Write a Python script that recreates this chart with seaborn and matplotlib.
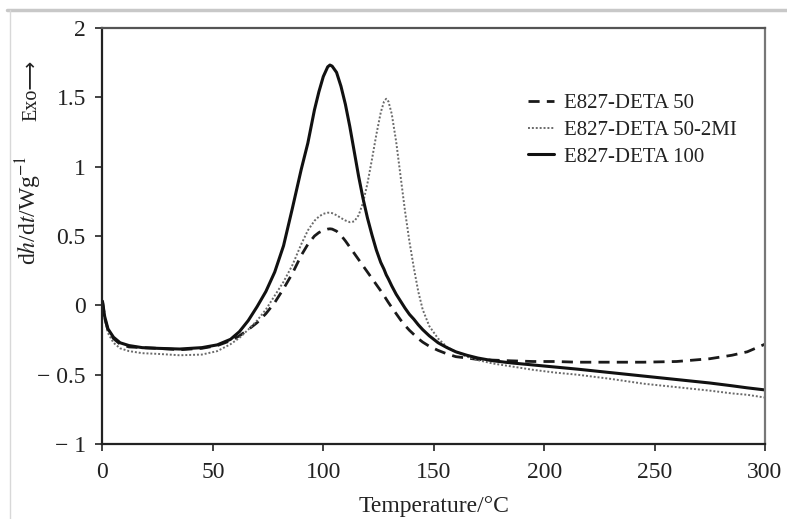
import numpy as np
import pandas as pd
import matplotlib
matplotlib.use("Agg")
import matplotlib.pyplot as plt
import seaborn as sns
from matplotlib.lines import Line2D
from matplotlib.ticker import FixedLocator, FixedFormatter

# ---------------- data ----------------
temperature = [0, 1, 2.5, 5, 8, 12, 18, 25, 35, 45, 52, 58, 62, 66, 70, 74, 78, 82, 86, 90,
               93, 96, 98, 100, 102, 103, 104, 106, 108, 110, 112, 114, 116, 118, 120, 122,
               124, 126, 127.5, 128.5, 129.5, 131, 133, 135, 137, 139, 141, 143, 145, 148,
               152, 156, 160, 165, 170, 177, 185, 195, 205, 215, 230, 245, 260, 275, 285,
               292, 300]

deta50 = [0.03, -0.09, -0.18, -0.24, -0.28, -0.30, -0.305, -0.31, -0.32, -0.31, -0.29,
          -0.255, -0.22, -0.175, -0.125, -0.06, 0.02, 0.12, 0.23, 0.36, 0.44, 0.50, 0.525,
          0.54, 0.55, 0.552, 0.55, 0.535, 0.505, 0.465, 0.42, 0.375, 0.33, 0.285, 0.24,
          0.195, 0.15, 0.105, 0.07, 0.045, 0.02, -0.015, -0.06, -0.105, -0.145, -0.18,
          -0.21, -0.24, -0.265, -0.295, -0.325, -0.35, -0.37, -0.38, -0.39, -0.395, -0.40,
          -0.405, -0.405, -0.41, -0.41, -0.41, -0.405, -0.385, -0.36, -0.335, -0.28]

deta50_2mi = [0.02, -0.10, -0.20, -0.27, -0.31, -0.33, -0.345, -0.35, -0.36, -0.355, -0.33,
              -0.28, -0.235, -0.175, -0.11, -0.03, 0.07, 0.17, 0.29, 0.44, 0.54, 0.61, 0.64,
              0.66, 0.668, 0.668, 0.665, 0.65, 0.63, 0.612, 0.60, 0.605, 0.65, 0.74, 0.88,
              1.05, 1.23, 1.39, 1.47, 1.49, 1.47, 1.38, 1.18, 0.93, 0.68, 0.46, 0.27, 0.10,
              -0.03, -0.15, -0.24, -0.30, -0.335, -0.37, -0.395, -0.42, -0.44, -0.465,
              -0.485, -0.50, -0.53, -0.565, -0.59, -0.615, -0.635, -0.645, -0.665]

deta100 = [0.03, -0.08, -0.17, -0.23, -0.27, -0.29, -0.305, -0.31, -0.315, -0.305, -0.285,
           -0.245, -0.19, -0.11, -0.01, 0.10, 0.24, 0.43, 0.70, 0.98, 1.17, 1.41, 1.54,
           1.65, 1.72, 1.733, 1.725, 1.68, 1.58, 1.45, 1.29, 1.11, 0.93, 0.77, 0.63, 0.51,
           0.40, 0.31, 0.26, 0.22, 0.19, 0.14, 0.08, 0.03, -0.02, -0.065, -0.10, -0.14,
           -0.175, -0.22, -0.27, -0.305, -0.335, -0.36, -0.38, -0.40, -0.415, -0.43, -0.445,
           -0.46, -0.485, -0.51, -0.535, -0.56, -0.58, -0.595, -0.61]

series_names = ["E827-DETA 50", "E827-DETA 50-2MI", "E827-DETA 100"]
x_ticks = [0, 50, 100, 150, 200, 250, 300]
x_tick_labels = ["0", "50", "100", "150", "200", "250", "300"]
y_ticks = [-1, -0.5, 0, 0.5, 1, 1.5, 2]
y_tick_labels = ["\u2212 1", "\u2212 0.5", "0", "0.5", "1", "1.5", "2"]

# ---------------- style ----------------
sns.set_theme(style="white")
plt.rcParams["font.family"] = ["Liberation Serif", "DejaVu Serif"]
plt.rcParams["mathtext.fontset"] = "stix"

df = pd.DataFrame({
    "T": temperature * 3,
    "v": deta50 + deta50_2mi + deta100,
    "series": [series_names[0]] * len(temperature)
              + [series_names[1]] * len(temperature)
              + [series_names[2]] * len(temperature),
})

fig = plt.figure(figsize=(7.87, 5.19), dpi=100)
ax = fig.add_axes([0.1302, 0.1445, 0.8418, 0.8015])

styles = {
    series_names[0]: dict(color="#1a1a1a", lw=2.0, dashes=(4.0, 2.6)),
    series_names[1]: dict(color="#6a6a6a", lw=1.4, dashes=(1.0, 1.0)),
    series_names[2]: dict(color="#111111", lw=2.2, dashes=()),
}
for name in series_names:
    sub = df[df["series"] == name]
    st = styles[name]
    sns.lineplot(data=sub, x="T", y="v", ax=ax, sort=False, estimator=None,
                 color=st["color"], linewidth=st["lw"], label=name)
    ln = ax.get_lines()[-1]
    if st["dashes"]:
        ln.set_dashes(st["dashes"])
    ln.set_solid_capstyle("round")
    ln.set_solid_joinstyle("round")

ax.set_xlim(0, 300)
ax.set_ylim(-1, 2)
ax.xaxis.set_major_locator(FixedLocator(x_ticks))
ax.xaxis.set_major_formatter(FixedFormatter(x_tick_labels))
ax.yaxis.set_major_locator(FixedLocator(y_ticks))
ax.yaxis.set_major_formatter(FixedFormatter(y_tick_labels))
ax.tick_params(axis="both", which="major", direction="out", length=5, width=1.2,
               color="#222222", labelsize=17, labelcolor="#222222",
               bottom=True, left=True, top=False, right=False)
ax.tick_params(axis="x", pad=8)
ax.tick_params(axis="y", pad=7)

for side, sp in ax.spines.items():
    sp.set_visible(True)
    sp.set_linewidth(1.6)
    sp.set_color("#222222")
ax.spines["right"].set_color("#777777")
ax.spines["top"].set_color("#555555")

ax.set_xlabel("Temperature/\u00b0C", fontsize=17, color="#222222", labelpad=9)
ax.set_ylabel("")

fig.text(0.036, 0.595, "d$h$/d$t$/Wg$^{-1}$", rotation=90, ha="center", va="center",
         fontsize=17, color="#222222")
fig.text(0.040, 0.825, "Exo\u27f6", rotation=90, ha="center", va="center",
         fontsize=14.5, color="#222222", family=["Liberation Serif", "DejaVu Sans"])

leg = ax.legend(loc="upper left", bbox_to_anchor=(0.629, 0.862), frameon=False,
                fontsize=15, handlelength=1.25, handletextpad=0.5, labelspacing=0.34,
                borderaxespad=0)
for t in leg.get_texts():
    t.set_color("#222222")

# thin grey page border of the scanned figure
fig.add_artist(Line2D([7 / 787, 1], [1 - 10 / 519, 1 - 10 / 519], transform=fig.transFigure,
                      color="#c8c8c8", lw=2.5))
fig.add_artist(Line2D([10 / 787, 10 / 787], [0, 1 - 10 / 519], transform=fig.transFigure,
                      color="#d8d8d8", lw=1.0))

fig.savefig("out.png", dpi=100, facecolor="white")
